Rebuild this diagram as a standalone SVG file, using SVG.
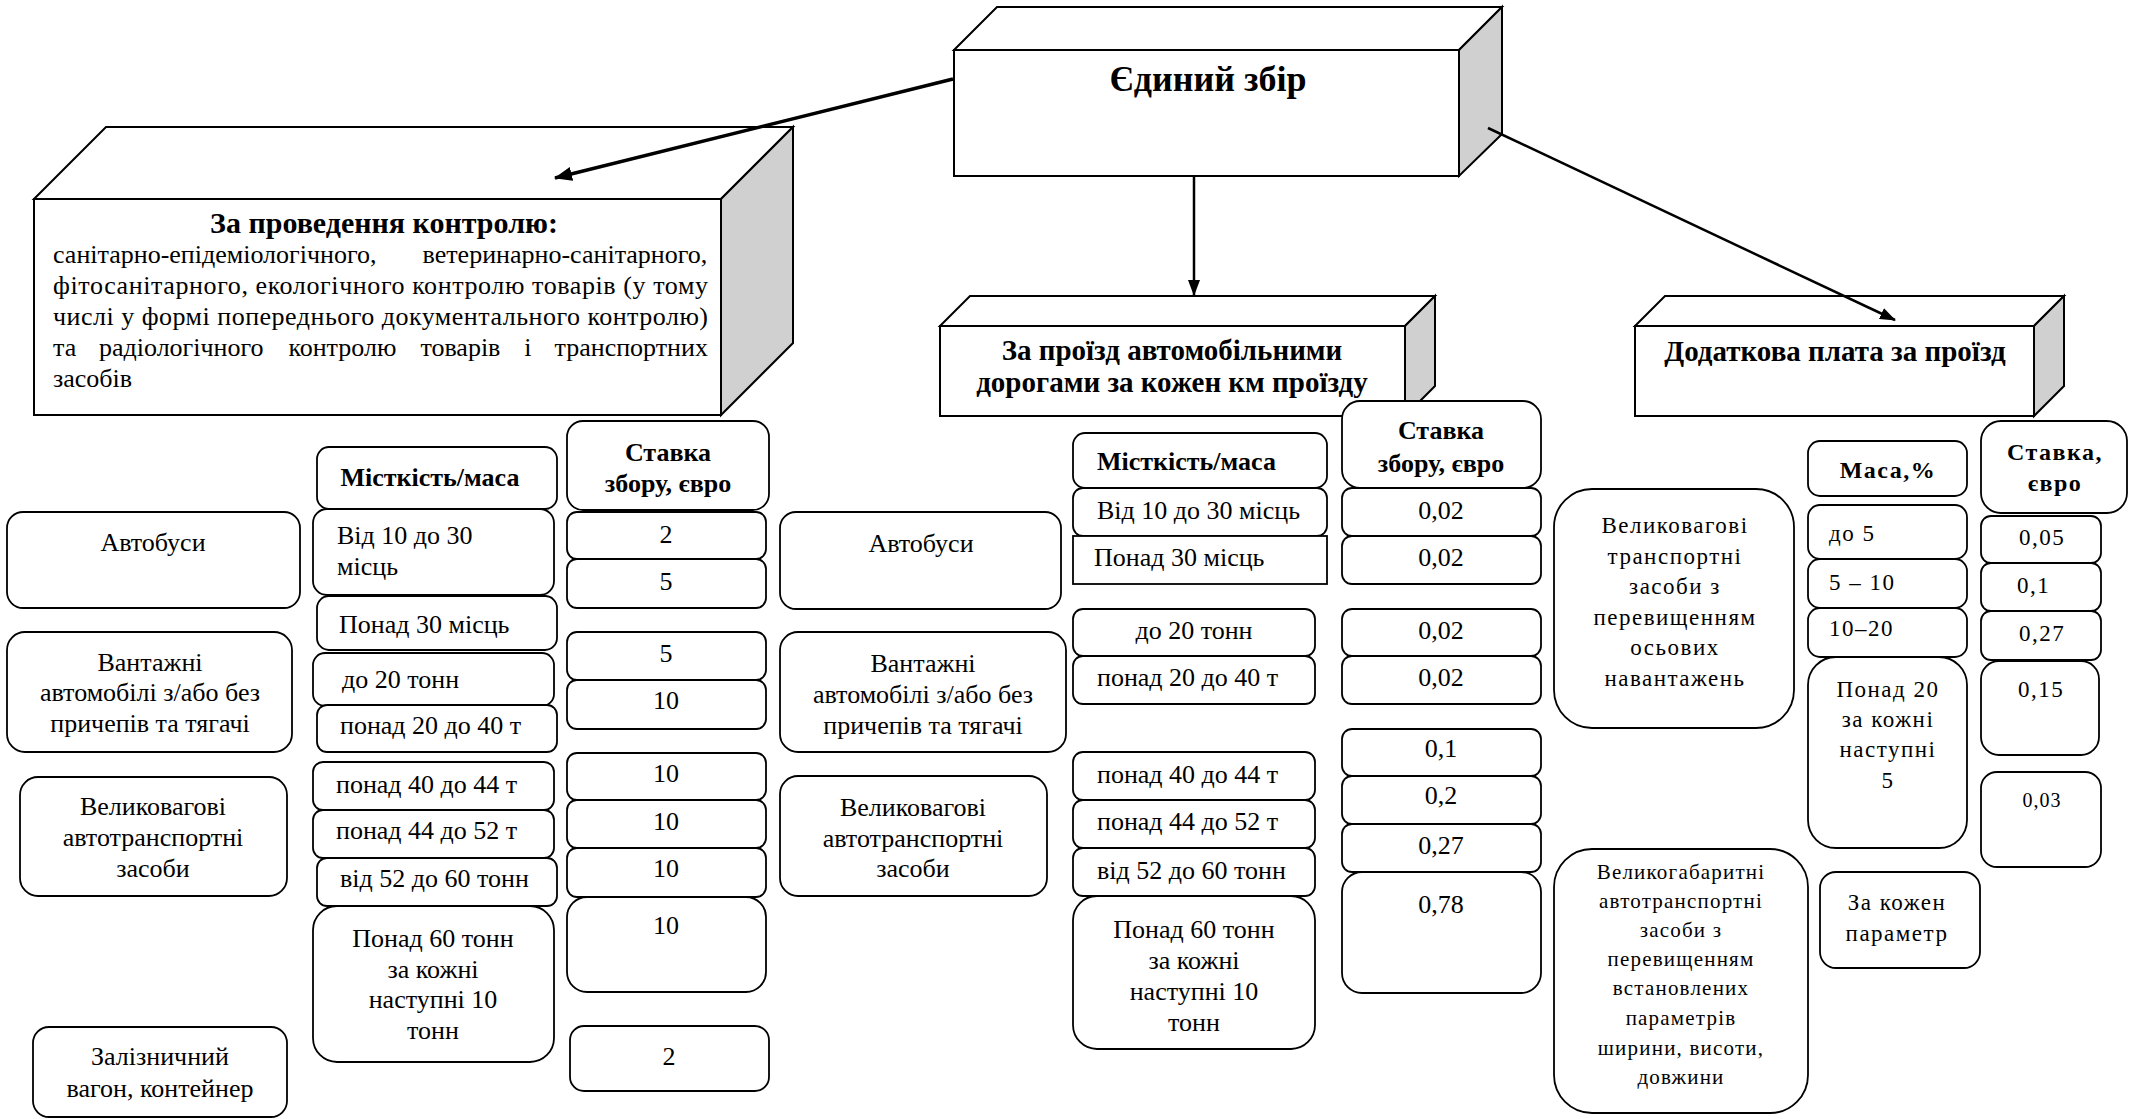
<svg xmlns="http://www.w3.org/2000/svg" width="2141" height="1119" viewBox="0 0 2141 1119">
<defs>
<style>
.face{fill:#fff;stroke:#000;stroke-width:2;stroke-linejoin:miter}
.side{fill:#d0d0d0;stroke:#000;stroke-width:2}
.cell{fill:#fff;stroke:#000;stroke-width:1.8}
text{font-family:"Liberation Serif","Times New Roman",serif;fill:#000}
.t{font-size:26px}
.h{font-size:26px;font-weight:bold}
.m{text-anchor:middle}
.r{font-size:23px;letter-spacing:1.5px}
.rs{font-size:21px;letter-spacing:1.2px}
.rb{font-size:24px;font-weight:bold;letter-spacing:1.5px}
.conn{stroke:#000;fill:none}
</style>
<marker id="ah" viewBox="0 0 16 12" refX="15" refY="6" markerWidth="16" markerHeight="12" markerUnits="userSpaceOnUse" orient="auto"><path d="M0,0 L16,6 L0,12 z" fill="#000"/></marker>
<marker id="ahb" viewBox="0 0 18 14" refX="17" refY="7" markerWidth="18" markerHeight="14" markerUnits="userSpaceOnUse" orient="auto"><path d="M0,0 L18,7 L0,14 z" fill="#000"/></marker>
</defs>
<rect width="2141" height="1119" fill="#fff"/>

<g id="node-main">
<polygon class="face" points="954,50 997,7 1502,7 1459,50"/>
<polygon class="side" points="1459,50 1502,7 1502,134 1459,176"/>
<rect class="face" x="954" y="50" width="505" height="126"/>
<text class="m" x="1208" y="91" style="font-size:36px;font-weight:bold">Єдиний збір</text>
</g>

<g id="node-control">
<polygon class="face" points="34,199 106,127 793,127 721,199"/>
<polygon class="side" points="721,199 793,127 793,343 721,415"/>
<rect class="face" x="34" y="199" width="687" height="216"/>
<text class="m" x="384" y="233" style="font-size:30px;font-weight:bold">За проведення контролю:</text>
<text class="t"><tspan x="53" y="263">санітарно-епідеміологічного,</tspan><tspan x="422.6" y="263">ветеринарно-санітарного,</tspan></text>
<text class="t" x="53" y="294" textLength="655" lengthAdjust="spacing">фітосанітарного, екологічного контролю товарів (у тому</text>
<text class="t" x="53" y="325" textLength="655" lengthAdjust="spacing">числі у формі попереднього документального контролю)</text>
<text class="t"><tspan x="53" y="356">та</tspan><tspan x="99" y="356">радіологічного</tspan><tspan x="288.4" y="356">контролю</tspan><tspan x="420.4" y="356">товарів</tspan><tspan x="524.2" y="356">і</tspan><tspan x="554.5" y="356">транспортних</tspan></text>
<text class="t" x="53" y="387">засобів</text>
</g>

<g id="node-roads">
<polygon class="face" points="940,326 970,296 1435,296 1405,326"/>
<polygon class="side" points="1405,326 1435,296 1435,386 1405,416"/>
<rect class="face" x="940" y="326" width="465" height="90"/>
<text class="m" x="1172" y="360" style="font-size:29px;font-weight:bold">За проїзд автомобільними</text>
<text class="m" x="1172" y="392" style="font-size:29px;font-weight:bold">дорогами за кожен км проїзду</text>
</g>

<g id="node-extra">
<polygon class="face" points="1635,326 1665,296 2064,296 2034,326"/>
<polygon class="side" points="2034,326 2064,296 2064,386 2034,416"/>
<rect class="face" x="1635" y="326" width="399" height="90"/>
<text class="m" x="1835" y="361" style="font-size:29px;font-weight:bold">Додаткова плата за проїзд</text>
</g>

<g id="connectors">
<line class="conn" x1="953" y1="79" x2="555" y2="178" stroke-width="3.5" marker-end="url(#ahb)"/>
<line class="conn" x1="1194" y1="176" x2="1194" y2="295" stroke-width="2.5" marker-end="url(#ah)"/>
<line class="conn" x1="1488" y1="128" x2="1895" y2="320" stroke-width="2.5" marker-end="url(#ah)"/>
</g>

<!-- Left table -->
<g id="l-veh-bus"><rect class="cell" x="7" y="512" width="293" height="96" rx="16"/><text class="t m" x="153" y="551">Автобуси</text></g>
<g id="l-veh-truck"><rect class="cell" x="7" y="632" width="285" height="120" rx="18"/><text class="t m" x="150"><tspan x="150" y="671">Вантажні</tspan><tspan x="150" y="701">автомобілі з/або без</tspan><tspan x="150" y="732">причепів та тягачі</tspan></text></g>
<g id="l-veh-heavy"><rect class="cell" x="20" y="777" width="267" height="119" rx="18"/><text class="t m"><tspan x="153" y="815">Великовагові</tspan><tspan x="153" y="846">автотранспортні</tspan><tspan x="153" y="877">засоби</tspan></text></g>
<g id="l-veh-rail"><rect class="cell" x="33" y="1027" width="254" height="90" rx="16"/><text class="t m"><tspan x="160" y="1065">Залізничний</tspan><tspan x="160" y="1097">вагон, контейнер</tspan></text></g>

<g id="l-mass-h"><rect class="cell" x="317" y="447" width="240" height="62" rx="12"/><text class="h m" x="430" y="486">Місткість/маса</text></g>
<g id="l-mass-1"><rect class="cell" x="313" y="509" width="241" height="86" rx="14"/><text class="t"><tspan x="337" y="544">Від 10 до 30</tspan><tspan x="337" y="575">місць</tspan></text></g>
<g id="l-mass-2"><rect class="cell" x="317" y="596" width="240" height="54" rx="12"/><text class="t" x="339" y="633">Понад 30 місць</text></g>
<g id="l-mass-3"><rect class="cell" x="313" y="653" width="241" height="53" rx="12"/><text class="t" x="342" y="688">до 20 тонн</text></g>
<g id="l-mass-4"><rect class="cell" x="317" y="705" width="240" height="47" rx="10"/><text class="t" x="340" y="734">понад 20 до 40 т</text></g>
<g id="l-mass-5"><rect class="cell" x="313" y="762" width="241" height="48" rx="10"/><text class="t" x="336" y="793">понад 40 до 44 т</text></g>
<g id="l-mass-6"><rect class="cell" x="313" y="810" width="241" height="48" rx="10"/><text class="t" x="336" y="839">понад 44 до 52 т</text></g>
<g id="l-mass-7"><rect class="cell" x="317" y="858" width="240" height="48" rx="10"/><text class="t" x="340" y="887">від 52 до 60 тонн</text></g>
<g id="l-mass-8"><rect class="cell" x="313" y="906" width="241" height="156" rx="24"/><text class="t m"><tspan x="433" y="947">Понад 60 тонн</tspan><tspan x="433" y="978">за кожні</tspan><tspan x="433" y="1008">наступні 10</tspan><tspan x="433" y="1039">тонн</tspan></text></g>

<g id="l-rate-h"><rect class="cell" x="567" y="421" width="202" height="89" rx="16"/><text class="h m"><tspan x="668" y="461">Ставка</tspan><tspan x="668" y="492">збору, євро</tspan></text></g>
<g id="l-rate-1"><rect class="cell" x="567" y="512" width="199" height="47" rx="10"/><text class="t m" x="666" y="543">2</text></g>
<g id="l-rate-2"><rect class="cell" x="567" y="559" width="199" height="49" rx="10"/><text class="t m" x="666" y="590">5</text></g>
<g id="l-rate-3"><rect class="cell" x="567" y="632" width="199" height="48" rx="10"/><text class="t m" x="666" y="662">5</text></g>
<g id="l-rate-4"><rect class="cell" x="567" y="680" width="199" height="49" rx="10"/><text class="t m" x="666" y="709">10</text></g>
<g id="l-rate-5"><rect class="cell" x="567" y="753" width="199" height="47" rx="10"/><text class="t m" x="666" y="782">10</text></g>
<g id="l-rate-6"><rect class="cell" x="567" y="800" width="199" height="48" rx="10"/><text class="t m" x="666" y="830">10</text></g>
<g id="l-rate-7"><rect class="cell" x="567" y="848" width="199" height="49" rx="10"/><text class="t m" x="666" y="877">10</text></g>
<g id="l-rate-8"><rect class="cell" x="567" y="897" width="199" height="95" rx="20"/><text class="t m" x="666" y="934">10</text></g>
<g id="l-rate-9"><rect class="cell" x="570" y="1026" width="199" height="65" rx="14"/><text class="t m" x="669" y="1065">2</text></g>

<!-- Middle table -->
<g id="m-veh-bus"><rect class="cell" x="780" y="512" width="281" height="97" rx="16"/><text class="t m" x="921" y="552">Автобуси</text></g>
<g id="m-veh-truck"><rect class="cell" x="780" y="632" width="286" height="120" rx="18"/><text class="t m"><tspan x="923" y="672">Вантажні</tspan><tspan x="923" y="703">автомобілі з/або без</tspan><tspan x="923" y="734">причепів та тягачі</tspan></text></g>
<g id="m-veh-heavy"><rect class="cell" x="780" y="776" width="267" height="120" rx="18"/><text class="t m"><tspan x="913" y="816">Великовагові</tspan><tspan x="913" y="847">автотранспортні</tspan><tspan x="913" y="877">засоби</tspan></text></g>

<g id="m-mass-h"><rect class="cell" x="1073" y="433" width="254" height="55" rx="12"/><text class="h" x="1097" y="470">Місткість/маса</text></g>
<g id="m-mass-1"><rect class="cell" x="1073" y="488" width="254" height="48" rx="10"/><text class="t" x="1097" y="519">Від 10 до 30 місць</text></g>
<g id="m-mass-2"><rect class="cell" x="1073" y="536" width="254" height="48"/><text class="t" x="1094" y="566">Понад 30 місць</text></g>
<g id="m-mass-3"><rect class="cell" x="1073" y="609" width="242" height="47" rx="10"/><text class="t m" x="1194" y="639">до 20 тонн</text></g>
<g id="m-mass-4"><rect class="cell" x="1073" y="656" width="242" height="48" rx="10"/><text class="t" x="1097" y="686">понад 20 до 40 т</text></g>
<g id="m-mass-5"><rect class="cell" x="1073" y="752" width="242" height="48" rx="10"/><text class="t" x="1097" y="783">понад 40 до 44 т</text></g>
<g id="m-mass-6"><rect class="cell" x="1073" y="800" width="242" height="48" rx="10"/><text class="t" x="1097" y="830">понад 44 до 52 т</text></g>
<g id="m-mass-7"><rect class="cell" x="1073" y="848" width="242" height="48" rx="10"/><text class="t" x="1097" y="879">від 52 до 60 тонн</text></g>
<g id="m-mass-8"><rect class="cell" x="1073" y="896" width="242" height="153" rx="24"/><text class="t m"><tspan x="1194" y="938">Понад 60 тонн</tspan><tspan x="1194" y="969">за кожні</tspan><tspan x="1194" y="1000">наступні 10</tspan><tspan x="1194" y="1031">тонн</tspan></text></g>

<g id="m-rate-h"><rect class="cell" x="1342" y="401" width="199" height="87" rx="18"/><text class="h m"><tspan x="1441" y="439">Ставка</tspan><tspan x="1441" y="472">збору, євро</tspan></text></g>
<g id="m-rate-1"><rect class="cell" x="1342" y="488" width="199" height="48" rx="10"/><text class="t m" x="1441" y="519">0,02</text></g>
<g id="m-rate-2"><rect class="cell" x="1342" y="536" width="199" height="48" rx="10"/><text class="t m" x="1441" y="566">0,02</text></g>
<g id="m-rate-3"><rect class="cell" x="1342" y="609" width="199" height="47" rx="10"/><text class="t m" x="1441" y="639">0,02</text></g>
<g id="m-rate-4"><rect class="cell" x="1342" y="656" width="199" height="48" rx="10"/><text class="t m" x="1441" y="686">0,02</text></g>
<g id="m-rate-5"><rect class="cell" x="1342" y="729" width="199" height="47" rx="10"/><text class="t m" x="1441" y="757">0,1</text></g>
<g id="m-rate-6"><rect class="cell" x="1342" y="776" width="199" height="48" rx="10"/><text class="t m" x="1441" y="804">0,2</text></g>
<g id="m-rate-7"><rect class="cell" x="1342" y="824" width="199" height="48" rx="10"/><text class="t m" x="1441" y="854">0,27</text></g>
<g id="m-rate-8"><rect class="cell" x="1342" y="872" width="199" height="121" rx="20"/><text class="t m" x="1441" y="913">0,78</text></g>

<!-- Right table -->
<g id="r-veh-axle"><rect class="cell" x="1554" y="489" width="240" height="239" rx="38"/><text class="r m"><tspan x="1675" y="533">Великовагові</tspan><tspan x="1675" y="564">транспортні</tspan><tspan x="1675" y="594">засоби з</tspan><tspan x="1675" y="625">перевищенням</tspan><tspan x="1675" y="655">осьових</tspan><tspan x="1675" y="686">навантажень</tspan></text></g>
<g id="r-veh-size"><rect class="cell" x="1554" y="849" width="254" height="264" rx="38"/><text class="rs m"><tspan x="1681" y="879">Великогабаритні</tspan><tspan x="1681" y="908">автотранспортні</tspan><tspan x="1681" y="937">засоби з</tspan><tspan x="1681" y="966">перевищенням</tspan><tspan x="1681" y="995">встановлених</tspan><tspan x="1681" y="1025">параметрів</tspan><tspan x="1681" y="1055">ширини, висоти,</tspan><tspan x="1681" y="1084">довжини</tspan></text></g>

<g id="r-mass-h"><rect class="cell" x="1808" y="441" width="159" height="55" rx="12"/><text class="rb m" x="1888" y="478">Маса,%</text></g>
<g id="r-rate-h"><rect class="cell" x="1981" y="421" width="146" height="92" rx="20"/><text class="rb m"><tspan x="2055" y="460">Ставка,</tspan><tspan x="2055" y="491">євро</tspan></text></g>
<g id="r-mass-1"><rect class="cell" x="1808" y="505" width="159" height="54" rx="12"/><text class="r" x="1829" y="541">до 5</text></g>
<g id="r-mass-2"><rect class="cell" x="1808" y="559" width="159" height="49" rx="12"/><text class="r" x="1829" y="590">5 – 10</text></g>
<g id="r-mass-3"><rect class="cell" x="1808" y="608" width="159" height="49" rx="12"/><text class="r" x="1829" y="636">10–20</text></g>
<g id="r-mass-4"><rect class="cell" x="1808" y="657" width="159" height="191" rx="28"/><text class="r m"><tspan x="1888" y="697">Понад 20</tspan><tspan x="1888" y="727">за кожні</tspan><tspan x="1888" y="757">наступні</tspan><tspan x="1888" y="788">5</tspan></text></g>
<g id="r-rate-1"><rect class="cell" x="1981" y="516" width="120" height="47" rx="10"/><text class="r m" x="2042" y="545">0,05</text></g>
<g id="r-rate-2"><rect class="cell" x="1981" y="563" width="120" height="48" rx="10"/><text class="r" x="2017" y="593">0,1</text></g>
<g id="r-rate-3"><rect class="cell" x="1981" y="611" width="120" height="49" rx="10"/><text class="r m" x="2042" y="641">0,27</text></g>
<g id="r-rate-4"><rect class="cell" x="1981" y="661" width="118" height="94" rx="18"/><text class="r m" x="2041" y="697">0,15</text></g>
<g id="r-rate-5"><rect class="cell" x="1981" y="772" width="120" height="95" rx="16"/><text class="m" x="2042" y="807" style="font-size:20px;letter-spacing:1px">0,03</text></g>
<g id="r-each"><rect class="cell" x="1820" y="872" width="160" height="96" rx="16"/><text class="r m"><tspan x="1897" y="910">За кожен</tspan><tspan x="1897" y="941">параметр</tspan></text></g>
</svg>
